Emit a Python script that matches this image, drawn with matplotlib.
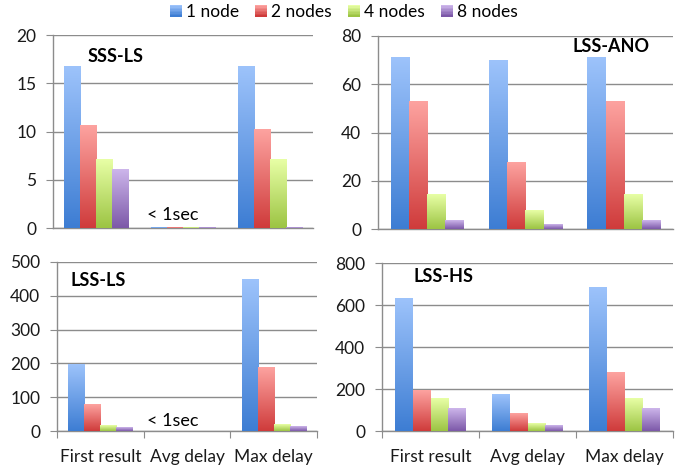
import numpy as np
import matplotlib
matplotlib.use("Agg")
import matplotlib.pyplot as plt
from matplotlib.colors import LinearSegmentedColormap
from matplotlib.patches import Rectangle
from matplotlib.legend_handler import HandlerPatch

plt.rcParams['font.family'] = ['Lato', 'DejaVu Sans']

categories = ["First result", "Avg delay", "Max delay"]
series = ["1 node", "2 nodes", "4 nodes", "8 nodes"]

sss_ls = [[16.7, 0.08, 16.7], [10.6, 0.08, 10.2], [7.05, 0.08, 7.05], [6.1, 0.08, 0.08]]
lss_ano = [[70.9, 70.0, 70.9], [53.0, 27.4, 53.0], [14.1, 7.5, 14.1], [3.7, 1.7, 3.7]]
lss_ls = [[197, 0.0, 449], [79, 0.0, 188], [17, 0.0, 20], [10, 0.0, 14]]
lss_hs = [[630, 176, 684], [195, 81, 280], [157, 38, 157], [105, 28.5, 105]]

titles = ["SSS-LS", "LSS-ANO", "LSS-LS", "LSS-HS"]
yticks = [[0, 5, 10, 15, 20], [0, 20, 40, 60, 80], [0, 100, 200, 300, 400, 500],
          [0, 200, 400, 600, 800]]

grad_colors = [("#3d7dd3", "#9dc3fb"), ("#cf3b3b", "#fda3a0"),
               ("#9cc443", "#e8ffa6"), ("#7c58a8", "#cdb6eb")]
cmaps = [LinearSegmentedColormap.from_list(f"g{i}", list(c)) for i, c in enumerate(grad_colors)]
grad = np.linspace(0, 1, 256).reshape(-1, 1)

fig = plt.figure(figsize=(6.81, 4.68), dpi=100)
W, H = 681, 468
def rect(l, r, t, b):
    return [l / W, 1 - b / H, (r - l) / W, (b - t) / H]

axes_pos = [rect(53, 313, 35, 228), rect(378, 673, 36, 229),
            rect(57, 317, 262, 431), rect(382, 673, 263, 431)]
datasets = [sss_ls, lss_ano, lss_ls, lss_hs]
title_pos = [(88, 57), (573, 47), (70, 280), (413, 277)]

gray = "#8c8c8c"
bw = 0.185
for k in range(4):
    ax = fig.add_axes(axes_pos[k])
    data = datasets[k]
    x = np.arange(len(categories))
    for i in range(4):
        bars = ax.bar(x + (i - 1.5) * bw, data[i], width=bw, color="none",
                      edgecolor="none", zorder=3)
        for b in bars:
            bx, by, bwid, bh = b.get_x(), b.get_y(), b.get_width(), b.get_height()
            if bh <= 0:
                continue
            ax.imshow(grad, extent=[bx, bx + bwid, by, by + bh], origin="lower",
                      aspect="auto", cmap=cmaps[i], zorder=3, interpolation="bilinear")
    ax.set_xlim(-0.5, 2.5)
    ax.set_ylim(0, yticks[k][-1])
    ax.set_yticks(yticks[k])
    ax.yaxis.grid(True, color=gray, linewidth=1.0, zorder=0)
    ax.set_axisbelow(True)
    for s in ["top", "right"]:
        ax.spines[s].set_visible(False)
    for s in ["left", "bottom"]:
        ax.spines[s].set_color(gray)
        ax.spines[s].set_linewidth(1.0)
    ax.tick_params(axis="y", length=5, color=gray, labelsize=12.5, pad=7, labelcolor="#1a1a1a")
    if k >= 2:
        ax.set_xticks([-0.5, 0.5, 1.5, 2.5])
        ax.set_xticklabels([])
        ax.set_xticks([0, 1, 2], minor=True)
        ax.set_xticklabels(categories, minor=True)
        ax.tick_params(axis="x", which="major", length=5, color=gray)
        ax.tick_params(axis="x", which="minor", length=0, labelsize=12.5, pad=13,
                       labelcolor="#1a1a1a")
    else:
        ax.set_xticks([])
    fig.text(title_pos[k][0] / W, 1 - title_pos[k][1] / H, titles[k],
             fontsize=13, fontweight="bold", ha="left", va="center", zorder=5)

fig.text(173 / W, 1 - 215 / H, "< 1sec", ha="center", va="center", fontsize=13, zorder=5)
fig.text(173 / W, 1 - 421 / H, "< 1sec", ha="center", va="center", fontsize=13, zorder=5)

class GradHandler(HandlerPatch):
    def __init__(self, cmap):
        super().__init__()
        self.cmap = cmap
    def create_artists(self, legend, orig_handle, xdescent, ydescent, width, height,
                       fontsize, trans):
        arts = []
        n = 8
        size = min(width, height)
        x0 = -xdescent + (width - size)
        y0 = -ydescent + (height - size) / 2
        for j in range(n):
            r = Rectangle((x0, y0 + j * size / n), size, size / n,
                          facecolor=self.cmap(j / (n - 1)), edgecolor="none",
                          transform=trans)
            arts.append(r)
        return arts

handles = [Rectangle((0, 0), 1, 1) for _ in series]
fig.legend(handles, series, loc="center", bbox_to_anchor=(342 / W, 1 - 12 / H),
           ncol=4, frameon=False, fontsize=12.5,
           handler_map={h: GradHandler(cmaps[i]) for i, h in enumerate(handles)},
           handlelength=0.9, handleheight=0.7, handletextpad=0.25, columnspacing=0.7)

fig.savefig("out.png", dpi=100)
